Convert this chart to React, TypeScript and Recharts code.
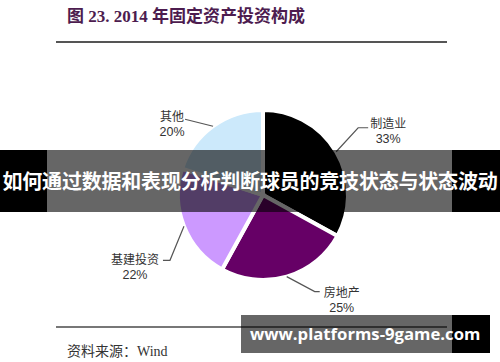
import React from 'react';
import { PieChart, Pie, Cell } from 'recharts';

const categories = ['制造业', '房地产', '基建投资', '其他'];
const shares = [33, 25, 22, 20];
const colors = ['#000000', '#660066', '#cc99ff', '#cce9fb'];

const titleText = '图 23. 2014 年固定资产投资构成';
const sourceText = '资料来源：Wind';
const bannerText = '如何通过数据和表现分析判断球员的竞技状态与状态波动';
const watermarkText = 'www.platforms-9game.com';

const data = categories.map((name, i) => ({ name, value: shares[i] }));

// leader line geometry per slice: elbow offset from edge point, tail length, text centre offset from tail end
const leaders = [
  { ex: 22, ey: -24, tail: 10, tx: 20, ty: -4 },
  { ex: 28, ey: 15, tail: 5, tx: 22, ty: 1 },
  { ex: -14, ey: 34, tail: -7, tx: -28, ty: 0 },
  { ex: -28, ey: -7, tail: 0, tx: -13, ty: -2 },
];

const RAD = Math.PI / 180;

const renderLabel = (props: any) => {
  const { cx, cy, midAngle, outerRadius, index, name, value } = props;
  const sx = cx + outerRadius * Math.cos(-midAngle * RAD);
  const sy = cy + outerRadius * Math.sin(-midAngle * RAD);
  const g = leaders[index];
  const mx = sx + g.ex;
  const my = sy + g.ey;
  const endX = mx + g.tail;
  const tcx = endX + g.tx;
  const tcy = my + g.ty;
  return (
    <g key={`lbl-${index}`}>
      <polyline
        points={`${sx},${sy} ${mx},${my} ${endX},${my}`}
        fill="none"
        stroke="#555"
        strokeWidth={1.2}
      />
      <text
        x={tcx}
        y={tcy}
        textAnchor="middle"
        dominantBaseline="central"
        fontSize={12}
        fill="#333"
        fontFamily="'Liberation Sans', 'Noto Sans CJK SC', sans-serif"
      >
        {name}
      </text>
      <text
        x={tcx}
        y={tcy + 15}
        textAnchor="middle"
        dominantBaseline="central"
        fontSize={12.5}
        fill="#333"
        fontFamily="'Liberation Sans', 'Noto Sans CJK SC', sans-serif"
      >
        {`${value}%`}
      </text>
    </g>
  );
};

export default function App() {
  return (
    <div
      style={{
        position: 'absolute',
        left: 0,
        top: 0,
        width: 500,
        height: 362,
        background: '#fff',
        overflow: 'hidden',
      }}
    >
      <div
        style={{
          position: 'absolute',
          left: 67,
          top: 5,
          fontSize: 17,
          fontWeight: 'bold',
          color: '#4d1c4f',
          fontFamily: "'Liberation Serif', 'Noto Sans CJK SC', serif",
          whiteSpace: 'nowrap',
          lineHeight: '24px',
        }}
      >
        {titleText}
      </div>
      <div style={{ position: 'absolute', left: 56, top: 41, width: 391, height: 1.5, background: '#555' }} />
      <div style={{ position: 'absolute', left: 0, top: 0 }}>
        <PieChart width={500} height={362}>
          <Pie
            data={data}
            dataKey="value"
            nameKey="name"
            cx={258}
            cy={190}
            outerRadius={85}
            startAngle={90}
            endAngle={-270}
            stroke="#fff"
            strokeWidth={4}
            label={renderLabel}
            labelLine={false}
            isAnimationActive={false}
          >
            {data.map((d, i) => (
              <Cell key={d.name} fill={colors[i]} />
            ))}
          </Pie>
        </PieChart>
      </div>
      <div style={{ position: 'absolute', left: 56, top: 326, width: 391, height: 1.5, background: '#777' }} />
      <div
        style={{
          position: 'absolute',
          left: 67,
          top: 342,
          fontSize: 14,
          color: '#333',
          fontFamily: "'Liberation Serif', 'Noto Sans CJK SC', serif",
          whiteSpace: 'nowrap',
          lineHeight: '20px',
        }}
      >
        {sourceText}
      </div>
      {/* overlay banner */}
      <div style={{ position: 'absolute', left: 0, top: 150, width: 47, height: 62, background: '#000' }} />
      <div style={{ position: 'absolute', left: 47, top: 150, width: 405, height: 62, background: 'rgba(0,0,0,0.6)' }} />
      <div style={{ position: 'absolute', left: 452, top: 150, width: 48, height: 62, background: '#000' }} />
      <div
        style={{
          position: 'absolute',
          left: 0,
          top: 150,
          width: 500,
          height: 62,
          lineHeight: '62px',
          textAlign: 'center',
          color: '#fff',
          fontWeight: 'bold',
          fontSize: 20,
          fontFamily: "'Noto Sans CJK SC', sans-serif",
          whiteSpace: 'nowrap',
          letterSpacing: -0.2,
        }}
      >
        {bannerText}
      </div>
      {/* watermark box */}
      <div style={{ position: 'absolute', left: 241, top: 315, width: 211, height: 38, background: 'rgba(0,0,0,0.6)' }} />
      <div style={{ position: 'absolute', left: 452, top: 315, width: 38, height: 38, background: '#000' }} />
      <div
        style={{
          position: 'absolute',
          left: 250,
          top: 315,
          height: 38,
          lineHeight: '38px',
          color: '#fff',
          fontWeight: 'bold',
          fontSize: 16.7,
          fontFamily: "'Open Sans', 'DejaVu Sans', sans-serif",
          whiteSpace: 'nowrap',
        }}
      >
        {watermarkText}
      </div>
    </div>
  );
}
